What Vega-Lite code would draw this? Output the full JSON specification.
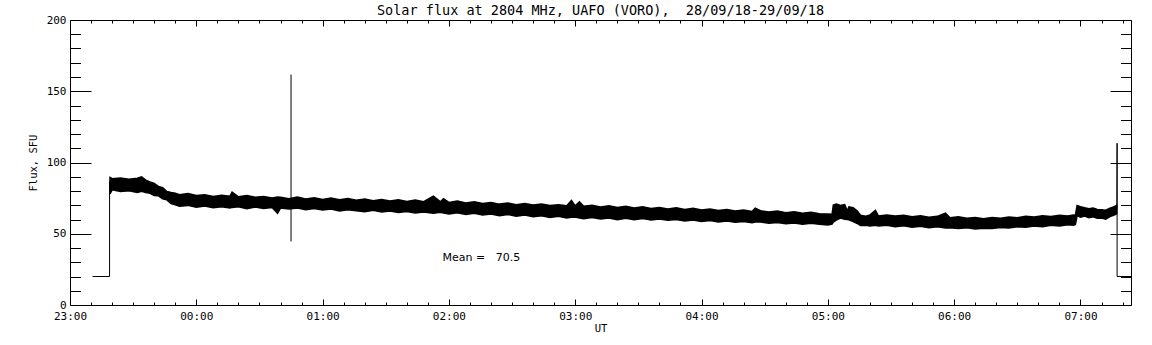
{
  "$schema": "https://vega.github.io/schema/vega-lite/v6.json",
  "width": 1061,
  "height": 285,
  "autosize": {"type": "none"},
  "padding": {"left": 70, "top": 20, "right": 21, "bottom": 40},
  "background": "white",
  "title": {
    "text": "Solar flux at 2804 MHz, UAFO (VORO),\u00a0 28/09/18-29/09/18",
    "font": "DejaVu Sans Mono",
    "fontSize": 13.5,
    "fontWeight": "normal",
    "color": "black",
    "anchor": "middle",
    "offset": -3
  },
  "config": {
    "view": {"stroke": null},
    "axis": {
      "domainColor": "black",
      "domainWidth": 1,
      "tickColor": "black",
      "tickWidth": 1,
      "labelFont": "DejaVu Sans Mono",
      "labelFontSize": 11,
      "labelColor": "black",
      "titleFont": "DejaVu Sans Mono",
      "titleFontSize": 10.5,
      "titleFontWeight": "normal",
      "titleColor": "black",
      "grid": false,
      "labelOverlap": false,
      "labelFlush": false,
      "labelBound": false
    }
  },
  "datasets": {
    "band": [
      {"t": 19, "hi": 89.5, "lo": 78},
      {"t": 20, "hi": 88.6, "lo": 80.8},
      {"t": 24, "hi": 89.2, "lo": 79.6},
      {"t": 28, "hi": 88.3, "lo": 80.1},
      {"t": 32, "hi": 89.0, "lo": 79.0},
      {"t": 34, "hi": 90.0, "lo": 79.8},
      {"t": 36, "hi": 87.6, "lo": 78.9},
      {"t": 38, "hi": 86.4, "lo": 78.4},
      {"t": 40, "hi": 85.3, "lo": 76.8},
      {"t": 42, "hi": 83.2, "lo": 76.6},
      {"t": 44, "hi": 82.4, "lo": 74.6},
      {"t": 46, "hi": 79.6, "lo": 73.8},
      {"t": 48, "hi": 78.9, "lo": 71.2},
      {"t": 50, "hi": 78.4, "lo": 70.4},
      {"t": 52, "hi": 77.4, "lo": 69.3},
      {"t": 56, "hi": 78.2, "lo": 69.9},
      {"t": 60, "hi": 76.8, "lo": 68.6},
      {"t": 64, "hi": 77.3, "lo": 69.4},
      {"t": 68, "hi": 76.1, "lo": 68.2},
      {"t": 72, "hi": 77.0, "lo": 69.0},
      {"t": 76, "hi": 76.4, "lo": 68.1},
      {"t": 77, "hi": 79.2, "lo": 68.5},
      {"t": 80, "hi": 75.9, "lo": 68.9},
      {"t": 84, "hi": 76.8, "lo": 67.6},
      {"t": 88, "hi": 75.6, "lo": 68.7},
      {"t": 92, "hi": 76.2, "lo": 67.8},
      {"t": 96, "hi": 75.1, "lo": 68.4},
      {"t": 98.6, "hi": 75.8, "lo": 64.4},
      {"t": 100, "hi": 75.6, "lo": 68.0},
      {"t": 104, "hi": 74.6, "lo": 67.3},
      {"t": 108, "hi": 75.7, "lo": 68.1},
      {"t": 112, "hi": 74.4, "lo": 66.8},
      {"t": 116, "hi": 75.2, "lo": 67.7},
      {"t": 120, "hi": 74.1, "lo": 66.6},
      {"t": 124, "hi": 75.0, "lo": 67.4},
      {"t": 128, "hi": 73.9, "lo": 66.0},
      {"t": 132, "hi": 74.8, "lo": 66.9},
      {"t": 136, "hi": 73.6, "lo": 66.1},
      {"t": 140, "hi": 74.4, "lo": 65.4},
      {"t": 144, "hi": 73.2, "lo": 66.4},
      {"t": 148, "hi": 74.1, "lo": 65.3},
      {"t": 152, "hi": 73.0, "lo": 66.0},
      {"t": 156, "hi": 73.8, "lo": 64.9},
      {"t": 160, "hi": 72.7, "lo": 65.6},
      {"t": 164, "hi": 73.6, "lo": 64.6},
      {"t": 168, "hi": 72.5, "lo": 65.3},
      {"t": 172.6, "hi": 76.4, "lo": 64.4},
      {"t": 176, "hi": 72.4, "lo": 65.0},
      {"t": 177.4, "hi": 74.5, "lo": 64.5},
      {"t": 180, "hi": 72.0, "lo": 63.9},
      {"t": 184, "hi": 72.9, "lo": 64.8},
      {"t": 188, "hi": 71.6, "lo": 63.6},
      {"t": 192, "hi": 72.5, "lo": 64.3},
      {"t": 196, "hi": 71.2, "lo": 63.2},
      {"t": 200, "hi": 72.0, "lo": 63.9},
      {"t": 204, "hi": 70.8, "lo": 62.7},
      {"t": 208, "hi": 71.6, "lo": 63.5},
      {"t": 212, "hi": 70.4, "lo": 62.3},
      {"t": 216, "hi": 71.2, "lo": 63.1},
      {"t": 220, "hi": 70.1, "lo": 61.9},
      {"t": 224, "hi": 70.8, "lo": 62.6},
      {"t": 228, "hi": 69.8, "lo": 61.4},
      {"t": 232, "hi": 70.4, "lo": 62.2},
      {"t": 236, "hi": 69.6, "lo": 61.0},
      {"t": 238.2, "hi": 73.3, "lo": 61.6},
      {"t": 240, "hi": 69.6, "lo": 61.8},
      {"t": 242, "hi": 72.4, "lo": 61.1},
      {"t": 244, "hi": 69.3, "lo": 60.6},
      {"t": 248, "hi": 70.0, "lo": 61.4},
      {"t": 252, "hi": 68.8, "lo": 60.3},
      {"t": 256, "hi": 69.7, "lo": 61.1},
      {"t": 260, "hi": 68.5, "lo": 59.8},
      {"t": 264, "hi": 69.3, "lo": 60.8},
      {"t": 268, "hi": 68.1, "lo": 59.9},
      {"t": 272, "hi": 68.9, "lo": 60.7},
      {"t": 276, "hi": 67.8, "lo": 59.6},
      {"t": 280, "hi": 68.5, "lo": 60.3},
      {"t": 284, "hi": 67.4, "lo": 59.4},
      {"t": 288, "hi": 68.2, "lo": 60.0},
      {"t": 292, "hi": 67.0, "lo": 58.9},
      {"t": 296, "hi": 67.8, "lo": 59.7},
      {"t": 300, "hi": 66.6, "lo": 58.6},
      {"t": 304, "hi": 67.4, "lo": 59.3},
      {"t": 308, "hi": 66.4, "lo": 58.2},
      {"t": 312, "hi": 67.0, "lo": 59.0},
      {"t": 316, "hi": 65.9, "lo": 58.0},
      {"t": 320, "hi": 66.7, "lo": 58.6},
      {"t": 324, "hi": 65.6, "lo": 57.7},
      {"t": 325.5, "hi": 68.0, "lo": 58.2},
      {"t": 328, "hi": 66.2, "lo": 58.3},
      {"t": 332, "hi": 65.2, "lo": 57.3},
      {"t": 336, "hi": 65.9, "lo": 57.9},
      {"t": 340, "hi": 64.8, "lo": 57.0},
      {"t": 344, "hi": 65.5, "lo": 57.6},
      {"t": 348, "hi": 64.4, "lo": 56.6},
      {"t": 352, "hi": 65.1, "lo": 57.3},
      {"t": 356, "hi": 64.0, "lo": 56.6},
      {"t": 360, "hi": 63.8, "lo": 56.2},
      {"t": 362, "hi": 63.6, "lo": 56.8},
      {"t": 362.6, "hi": 70.2, "lo": 58.2},
      {"t": 364, "hi": 70.8, "lo": 59.6},
      {"t": 366, "hi": 69.8, "lo": 61.0},
      {"t": 368, "hi": 70.5, "lo": 60.2},
      {"t": 369.3, "hi": 66.0, "lo": 60.0},
      {"t": 370, "hi": 68.9, "lo": 59.8},
      {"t": 372, "hi": 68.3, "lo": 58.6},
      {"t": 374, "hi": 66.0, "lo": 57.2},
      {"t": 375.5, "hi": 63.0, "lo": 55.8},
      {"t": 378, "hi": 62.3, "lo": 56.0},
      {"t": 380, "hi": 63.2, "lo": 55.5},
      {"t": 382.6, "hi": 66.3, "lo": 55.9},
      {"t": 384, "hi": 62.5, "lo": 55.4},
      {"t": 388, "hi": 63.1, "lo": 56.0},
      {"t": 392, "hi": 62.4, "lo": 55.0},
      {"t": 396, "hi": 63.0, "lo": 55.6},
      {"t": 400, "hi": 62.0, "lo": 54.6},
      {"t": 404, "hi": 62.6, "lo": 55.2},
      {"t": 408, "hi": 61.6, "lo": 54.3},
      {"t": 412, "hi": 62.2, "lo": 54.9},
      {"t": 415.9, "hi": 64.5, "lo": 54.1},
      {"t": 418, "hi": 61.3, "lo": 54.2},
      {"t": 422, "hi": 61.9, "lo": 53.6},
      {"t": 426, "hi": 60.8, "lo": 54.2},
      {"t": 430, "hi": 61.4, "lo": 53.3},
      {"t": 434, "hi": 60.5, "lo": 53.8},
      {"t": 438, "hi": 61.4, "lo": 53.6},
      {"t": 442, "hi": 60.9, "lo": 54.4},
      {"t": 446, "hi": 61.8, "lo": 54.0},
      {"t": 450, "hi": 61.3, "lo": 54.9},
      {"t": 454, "hi": 62.3, "lo": 54.5},
      {"t": 458, "hi": 61.7, "lo": 55.4},
      {"t": 462, "hi": 62.6, "lo": 55.0},
      {"t": 466, "hi": 62.1, "lo": 55.9},
      {"t": 470, "hi": 63.0, "lo": 55.5},
      {"t": 474, "hi": 62.5, "lo": 56.3},
      {"t": 476.7, "hi": 63.2, "lo": 56.0},
      {"t": 477.6, "hi": 63.0, "lo": 56.5},
      {"t": 478.4, "hi": 69.8, "lo": 62.8},
      {"t": 480, "hi": 69.0, "lo": 61.6},
      {"t": 482, "hi": 68.2, "lo": 62.4},
      {"t": 484, "hi": 67.6, "lo": 61.2},
      {"t": 486, "hi": 68.0, "lo": 61.9},
      {"t": 488, "hi": 67.0, "lo": 60.8},
      {"t": 490, "hi": 66.8, "lo": 61.0},
      {"t": 492, "hi": 66.5, "lo": 60.2},
      {"t": 494, "hi": 68.0, "lo": 62.0},
      {"t": 496, "hi": 69.0, "lo": 63.2},
      {"t": 497.2, "hi": 69.8, "lo": 64.0}
    ],
    "edges": [
      {"seg": "a", "i": 1, "t": 10.7, "v": 20},
      {"seg": "a", "i": 2, "t": 18.8, "v": 20},
      {"seg": "a", "i": 3, "t": 18.8, "v": 87},
      {"seg": "b", "i": 1, "t": 497.3, "v": 67},
      {"seg": "b", "i": 2, "t": 497.4, "v": 113.5},
      {"seg": "b", "i": 3, "t": 497.4, "v": 20},
      {"seg": "b", "i": 4, "t": 504, "v": 20}
    ],
    "spikes": [
      {"t": 105, "lo": 44.6, "hi": 161.7}
    ],
    "notes": [
      {"t": 177, "v": 33, "label": "Mean =\u00a0\u00a0 70.5"}
    ]
  },
  "layer": [
    {
      "data": {"name": "band"},
      "mark": {"type": "area", "color": "black", "stroke": "black", "strokeWidth": 1.5, "interpolate": "linear"},
      "encoding": {
        "x": {
          "field": "t", "type": "quantitative",
          "scale": {"domain": [0, 504], "nice": false, "zero": false},
          "axis": {
            "orient": "bottom",
            "title": "UT",
            "titlePadding": -1,
            "values": [0,10,20,30,40,50,60,70,80,90,100,110,120,130,140,150,160,170,180,190,200,210,220,230,240,250,260,270,280,290,300,310,320,330,340,350,360,370,380,390,400,410,420,430,440,450,460,470,480,490,500],
            "labelExpr": "datum.value % 60 == 0 ? ((floor((23 + datum.value/60) % 24) < 10 ? '0' : '') + floor((23 + datum.value/60) % 24) + ':00') : ''",
            "tickSize": {"condition": {"test": "datum.value % 60 == 0", "value": -6}, "value": -3},
            "labelPadding": 11
          }
        },
        "y": {
          "field": "hi", "type": "quantitative",
          "scale": {"domain": [0, 200], "nice": false, "zero": false},
          "axis": {
            "orient": "left",
            "title": "Flux, SFU",
            "titlePadding": 8,
            "values": [0,10,20,30,40,50,60,70,80,90,100,110,120,130,140,150,160,170,180,190,200],
            "labelExpr": "datum.value % 50 == 0 ? datum.label : ''",
            "tickSize": {"condition": {"test": "datum.value % 50 == 0", "value": -21}, "value": -10.5},
            "labelPadding": 25
          }
        },
        "y2": {"field": "lo"}
      }
    },
    {
      "data": {"name": "edges"},
      "mark": {"type": "line", "color": "black", "strokeWidth": 1},
      "encoding": {
        "x": {"field": "t", "type": "quantitative", "axis": null},
        "y": {"field": "v", "type": "quantitative", "axis": null},
        "detail": {"field": "seg"},
        "order": {"field": "i"}
      }
    },
    {
      "data": {"name": "spikes"},
      "mark": {"type": "rule", "color": "black", "strokeWidth": 1},
      "encoding": {
        "x": {"field": "t", "type": "quantitative", "axis": null},
        "y": {"field": "lo", "type": "quantitative", "axis": null},
        "y2": {"field": "hi"}
      }
    },
    {
      "data": {"name": "notes"},
      "mark": {"type": "text", "align": "left", "baseline": "middle", "font": "DejaVu Sans", "fontSize": 11, "color": "black"},
      "encoding": {
        "x": {"field": "t", "type": "quantitative", "axis": null},
        "y": {"field": "v", "type": "quantitative", "axis": null},
        "text": {"field": "label"}
      }
    },
    {
      "data": {"name": "spikes"},
      "mark": {"type": "rule", "opacity": 0},
      "encoding": {
        "x": {
          "field": "t", "type": "quantitative",
          "axis": {
            "orient": "top",
            "title": null,
            "labels": false,
            "values": [0,10,20,30,40,50,60,70,80,90,100,110,120,130,140,150,160,170,180,190,200,210,220,230,240,250,260,270,280,290,300,310,320,330,340,350,360,370,380,390,400,410,420,430,440,450,460,470,480,490,500],
            "tickSize": {"condition": {"test": "datum.value % 60 == 0", "value": -6}, "value": -3}
          }
        },
        "y": {
          "field": "lo", "type": "quantitative",
          "axis": {
            "orient": "right",
            "title": null,
            "labels": false,
            "values": [0,10,20,30,40,50,60,70,80,90,100,110,120,130,140,150,160,170,180,190,200],
            "tickSize": {"condition": {"test": "datum.value % 50 == 0", "value": -21}, "value": -10.5}
          }
        },
        "y2": {"field": "hi"}
      }
    }
  ],
  "resolve": {"axis": {"x": "independent", "y": "independent"}}
}
